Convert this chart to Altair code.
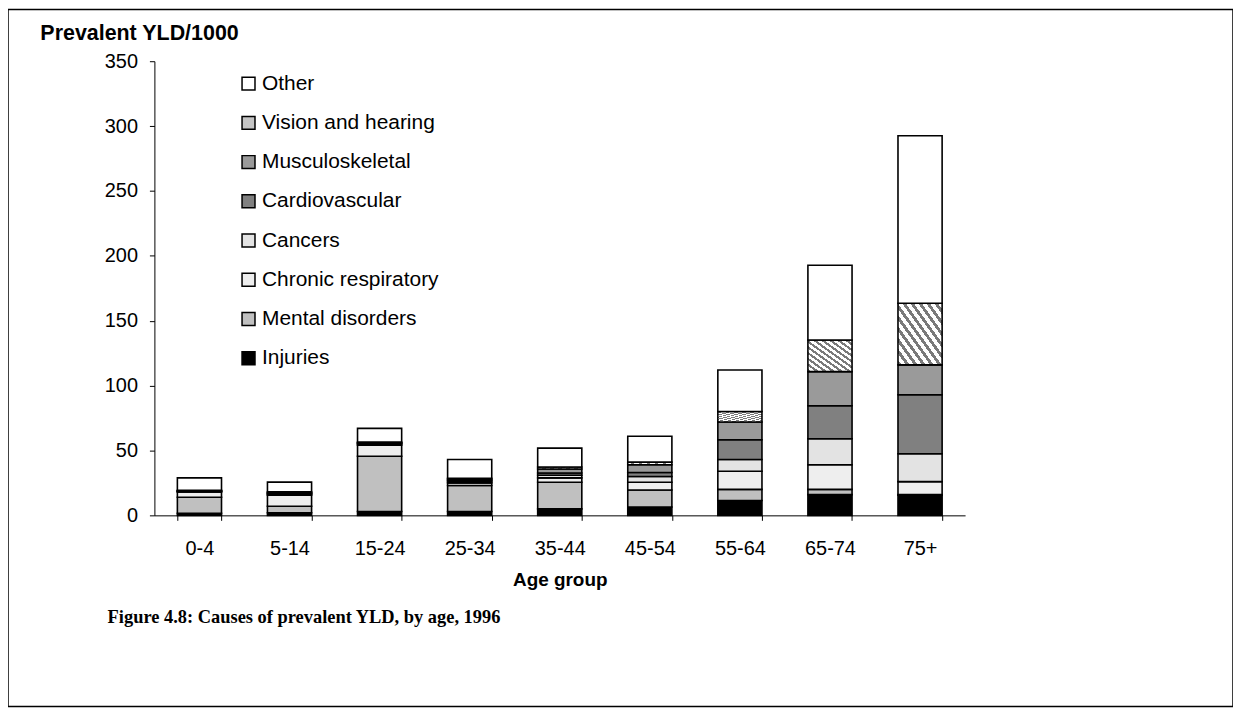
import altair as alt
import pandas as pd

AGE_GROUPS = ["0-4", "5-14", "15-24", "25-34", "35-44", "45-54", "55-64", "65-74", "75+"]
# stacking order, bottom to top
CAUSES = ["Injuries", "Mental disorders", "Chronic respiratory", "Cancers",
          "Cardiovascular", "Musculoskeletal", "Vision and hearing", "Other"]

INJURIES = [1.5, 2, 3, 3, 5, 6.5, 11.5, 16, 15.5]
MENTAL = [12.5, 5, 42.5, 20, 20.5, 13, 8.5, 4, 0.5]
CHRONIC = [4, 8.5, 8.5, 2, 3.4, 6, 14, 19, 10]
CANCERS = [0.3, 0.8, 1, 1.2, 2, 4.5, 9, 20, 21.5]
CARDIO = [0.3, 0.5, 0.5, 0.8, 1.8, 3, 15.3, 25.5, 45.5]
MUSCULO = [0.3, 0.5, 0.5, 0.8, 3, 6, 13.7, 26.3, 23]
VISION = [0.5, 0.8, 0.5, 0.8, 1.6, 2, 8, 24.4, 47.5]
OTHER = [9.5, 7.5, 10.5, 14.4, 14.5, 20, 32, 57.5, 129]

Y_TICKS = [0, 50, 100, 150, 200, 250, 300, 350]
CAPTION = "Figure 4.8: Causes of prevalent YLD, by age, 1996"

SERIES = [INJURIES, MENTAL, CHRONIC, CANCERS, CARDIO, MUSCULO, VISION, OTHER]

rows = []
for rank, (cause, vals) in enumerate(zip(CAUSES, SERIES)):
    for age, v in zip(AGE_GROUPS, vals):
        rows.append({"age": age, "cause": cause, "value": v, "rank": rank})
df = pd.DataFrame(rows)

LEGEND_ORDER = list(reversed(CAUSES))
FILLS = ["#ffffff", "#c4c4c4", "#9a9a9a", "#808080", "#e3e3e3", "#eeeeee", "#c0c0c0", "#000000"]


def hatch(n):
    stops = []
    for i in range(n):
        a = i / n
        b = (i + 0.45) / n
        c = (i + 1) / n
        stops += [{"offset": a, "color": "#7a7a7a"}, {"offset": b, "color": "#7a7a7a"},
                  {"offset": b, "color": "#ffffff"}, {"offset": c, "color": "#ffffff"}]
    return {"gradient": "linear", "x1": 0, "y1": 1, "x2": 1, "y2": 0, "stops": stops}


HATCH = hatch(11)

W, H = 1230, 700
FONT = "Liberation Sans"

bars = alt.Chart(df).mark_bar(stroke="black", strokeWidth=1.6).encode(
    x=alt.X("age:N", sort=AGE_GROUPS,
            scale=alt.Scale(range=[147, 961], paddingInner=0.51, paddingOuter=0.255),
            axis=alt.Axis(offset=508 - H, tickBand="extent", tickSize=5, labelAngle=0,
                          labelPadding=18, labelFontSize=20, labelFont=FONT, labelColor="black",
                          domainColor="black", tickColor="black", grid=False,
                          title="Age group", titleFont=FONT, titleFontSize=19,
                          titleFontWeight="bold", titleColor="black", titlePadding=12)),
    y=alt.Y("value:Q", stack="zero",
            scale=alt.Scale(domain=[0, 350], range=[508, 52], nice=False),
            axis=alt.Axis(values=Y_TICKS, offset=-147, tickSize=5, labelPadding=12,
                          labelFontSize=20, labelFont=FONT, labelColor="black",
                          domainColor="black", tickColor="black", grid=False,
                          title="Prevalent YLD/1000", titleAngle=0, titleAlign="left",
                          titleBaseline="middle", titleX=-115, titleY=24,
                          titleFont=FONT, titleFontSize=21.5, titleFontWeight="bold",
                          titleColor="black")),
    fill=alt.condition(
        alt.datum.cause == "Vision and hearing",
        alt.value(HATCH),
        alt.Fill("cause:N", scale=alt.Scale(domain=LEGEND_ORDER, range=FILLS),
                 legend=alt.Legend(title=None, orient="none", legendX=231, legendY=64,
                                   symbolType="square", symbolSize=169,
                                   symbolStrokeColor="black", symbolStrokeWidth=1.5,
                                   labelFont=FONT, labelFontSize=21, labelColor="black",
                                   labelOffset=3, rowPadding=17.4, labelLimit=400)),
    ),
    order=alt.Order("rank:Q"),
)

caption = alt.Chart(pd.DataFrame({"caption": [CAPTION]})).mark_text(
    align="left", baseline="middle", font="Liberation Serif", fontWeight="bold",
    fontSize=18.5, color="black"
).encode(x=alt.value(100), y=alt.value(610), text="caption:N")

chart = alt.layer(bars, caption).properties(
    width=W, height=H, padding=0, autosize=alt.AutoSizeParams(type="none")
).configure_view(stroke="black", strokeWidth=1.5)

chart.save("out.html", embed_options={"renderer": "svg", "actions": False})
